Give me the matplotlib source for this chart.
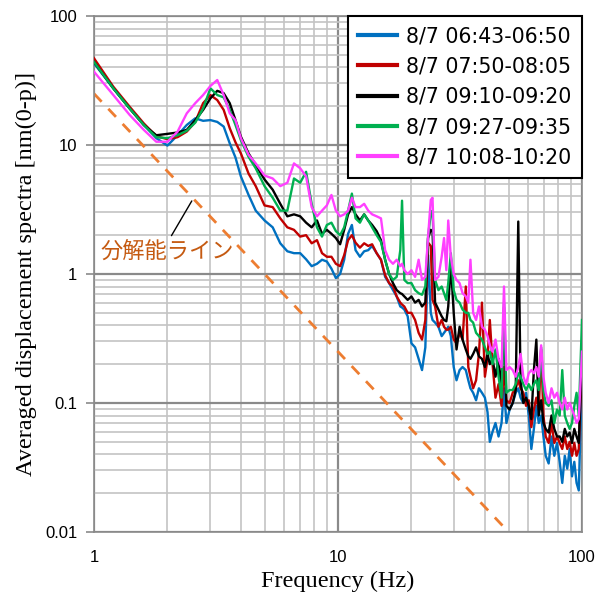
import numpy as np
import matplotlib
matplotlib.use("Agg")
import matplotlib.pyplot as plt
from matplotlib.ticker import LogLocator, NullFormatter, FixedLocator, FixedFormatter

# 周波数 (Hz)
freq = [1.0, 1.2, 1.4, 1.6, 1.8, 2.0, 2.2, 2.4, 2.6, 2.8, 3.0, 3.2, 3.4, 3.6, 3.8,
        4.0, 4.3, 4.6, 5.0, 5.4, 5.8, 6.2, 6.6, 7.0, 7.4, 7.8, 8.2, 8.6, 9.0, 9.4,
        9.8, 10.2, 10.6, 11.0, 11.4, 11.8, 12.3, 12.8, 13.3, 13.8, 14.4, 15.0, 15.6,
        16.2, 16.8, 17.4, 18.0, 18.3, 18.7, 19.3, 20.0, 20.7, 21.4, 22.1, 22.8, 23.4,
        24.0, 24.4, 25.0, 25.8, 26.6, 27.2, 27.8, 28.3, 29.0, 29.8, 30.6, 31.5, 32.4,
        33.4, 34.2, 34.9, 35.8, 36.8, 37.8, 38.9, 40.0, 41.0, 41.9, 43.0, 44.2, 45.5,
        46.8, 47.9, 49.0, 50.5, 52.0, 53.5, 54.8, 56.0, 57.5, 59.0, 60.5, 62.0, 63.5,
        65.0, 66.5, 68.0, 69.5, 71.0, 73.0, 75.0, 77.0, 79.0, 81.0, 83.0, 85.0, 87.0,
        89.0, 91.0, 93.0, 95.0, 97.0, 100.0]

# 8/7 06:43-06:50
s0643 = [43, 27.5, 19.2, 14.3, 11.3, 9.9, 11.9, 14.3, 16.1, 15.4, 15.6, 15.1, 13.9, 10.3, 8.0,
         5.7, 4.1, 3.1, 2.6, 2.3, 1.73, 1.5, 1.45, 1.45, 1.3, 1.15, 1.2, 1.29, 1.25, 1.1,
         0.93, 1.0, 1.29, 2.05, 2.4, 1.53, 1.36, 1.5, 1.53, 1.65, 1.45, 1.29, 0.95,
         0.85, 0.75, 0.67, 0.56, 0.55, 0.53, 0.47, 0.29, 0.27, 0.22, 0.18, 0.27, 1.4,
         0.5, 0.44, 0.42, 0.39, 0.33, 0.35, 0.37, 0.39, 0.33, 0.19, 0.15, 0.18, 0.19,
         0.18, 0.15, 0.13, 0.12, 0.105, 0.13, 0.12, 0.11, 0.085, 0.05, 0.06, 0.07, 0.055,
         0.07, 0.13, 0.07, 0.089, 0.1, 0.12, 0.13, 0.11, 0.1, 0.12, 0.08, 0.044, 0.063,
         0.095, 0.07, 0.08, 0.055, 0.039, 0.034, 0.055, 0.039, 0.049, 0.035, 0.024, 0.039, 0.031,
         0.044, 0.027, 0.035, 0.024, 0.021, 0.17]

# 8/7 07:50-08:05
s0750 = [47, 28.3, 19.8, 14.7, 11.7, 11.1, 11.5, 12.7, 15.1, 21.1, 24.4, 22.3, 18.7, 13.5, 10.5,
         8.6, 6.0, 4.8, 3.4, 3.3, 2.7, 2.3, 2.2, 1.95, 2.0, 1.73, 1.83, 1.45, 1.36, 1.36,
         1.2, 1.15, 1.4, 1.83, 2.0, 1.75, 1.6, 1.73, 1.65, 1.7, 1.45, 1.29, 0.98,
         0.85, 0.8, 0.67, 0.6, 0.58, 0.56, 0.5, 0.5, 0.44, 0.35, 0.31, 0.44, 1.75,
         1.65, 0.63, 0.56, 0.39, 0.44, 0.39, 0.37, 0.37, 0.39, 0.31, 0.29, 0.35, 0.31,
         0.8, 0.19, 0.16, 0.13, 0.15, 0.24, 0.6, 0.16, 0.22, 0.44, 0.2, 0.11, 0.14,
         0.095, 0.19, 0.105, 0.1, 0.12, 0.13, 0.15, 0.13, 0.12, 0.095, 0.105, 0.065, 0.089,
         0.11, 0.089, 0.26, 0.08, 0.055, 0.049, 0.07, 0.049, 0.055, 0.049, 0.044, 0.055, 0.044,
         0.05, 0.039, 0.049, 0.039, 0.044, 0.22]

# 8/7 09:10-09:20
s0910 = [44, 27.5, 19.2, 14.3, 11.9, 12.2, 12.5, 13.1, 15.6, 18.7, 23.0, 26.3, 25.2, 21.1, 15.6,
         11.6, 8.6, 7.0, 5.4, 4.5, 3.5, 2.8, 2.9, 2.8, 2.5, 2.3, 2.6, 2.05, 2.2, 2.05,
         1.9, 1.7, 2.2, 2.9, 3.3, 2.9, 2.6, 2.9, 2.6, 2.4, 2.15, 1.83, 1.29,
         1.0, 0.85, 0.75, 0.71, 0.7, 0.67, 0.63, 0.67, 0.6, 0.63, 0.56, 0.6, 1.9,
         2.2, 2.15, 0.6, 0.53, 0.47, 0.44, 0.43, 0.56, 1.2, 0.5, 0.26, 0.39, 0.31,
         0.26, 0.23, 0.22, 0.24, 0.27, 0.23, 0.22, 0.19, 0.24, 0.2, 0.22, 0.16, 0.22,
         0.125, 0.55, 0.095, 0.089, 0.1, 0.126, 2.55, 0.15, 0.1, 0.11, 0.095, 0.075, 0.18,
         0.31, 0.08, 0.105, 0.07, 0.063, 0.059, 0.08, 0.063, 0.055, 0.055, 0.05, 0.063, 0.055,
         0.059, 0.049, 0.063, 0.055, 0.049, 0.23]

# 8/7 09:27-09:35
s0927 = [44, 27.5, 19.2, 14.3, 11.5, 11.3, 11.9, 12.9, 14.9, 19.2, 27.5, 24.4, 23.4, 18.7, 14.3,
         10.9, 8.1, 6.6, 4.8, 3.9, 3.1, 3.1, 5.5, 5.1, 6.2, 3.5, 2.3, 1.95, 2.4, 2.5,
         2.15, 2.0, 2.3, 3.1, 4.2, 2.7, 2.5, 2.9, 2.6, 2.3, 2.0, 1.77, 1.29,
         1.0, 0.9, 0.95, 1.53, 3.7, 0.9, 0.85, 0.85, 0.75, 0.71, 0.69, 0.8, 1.95,
         2.95, 3.1, 0.9, 0.75, 0.8, 0.71, 0.63, 0.85, 1.45, 0.75, 0.63, 0.6, 0.53,
         0.5, 0.5, 0.44, 0.42, 0.35, 0.33, 0.31, 0.27, 0.24, 0.25, 0.2, 0.26, 0.16,
         0.11, 0.6, 0.12, 0.126, 0.126, 0.14, 0.17, 0.16, 0.14, 0.126, 0.14, 0.126, 0.14,
         0.15, 0.126, 0.27, 0.126, 0.1, 0.095, 0.105, 0.07, 0.089, 0.08, 0.18, 0.08, 0.07,
         0.063, 0.07, 0.095, 0.12, 0.08, 0.44]

# 8/7 10:08-10:20
s1008 = [37, 24.4, 17.1, 13.1, 10.6, 10.6, 12.7, 17.6, 21.1, 24.4, 28.7, 31.9, 24.4, 17.6, 15.6,
         11.3, 8.4, 7.2, 5.8, 5.5, 4.8, 5.1, 7.2, 6.6, 5.7, 3.3, 2.8, 3.1, 3.4, 4.1,
         3.1, 2.8, 2.9, 3.1, 3.9, 3.3, 3.3, 3.5, 3.1, 2.9, 2.8, 2.7, 1.53,
         1.29, 1.2, 1.29, 1.15, 1.2, 1.07, 1.0, 1.07, 0.95, 1.29, 0.9, 0.95, 1.95,
         3.75, 3.9, 0.9, 0.95, 1.36, 1.9, 1.07, 2.6, 1.36, 1.0, 0.9, 0.85, 0.71,
         0.67, 0.6, 1.29, 0.5, 0.44, 0.56, 0.39, 0.37, 0.33, 0.28, 0.25, 0.31, 0.22,
         0.19, 0.8, 0.18, 0.19, 0.18, 0.16, 0.19, 0.24, 0.16, 0.14, 0.17, 0.18, 0.17,
         0.19, 0.16, 0.28, 0.16, 0.12, 0.1, 0.13, 0.11, 0.12, 0.1, 0.089, 0.11, 0.089,
         0.1, 0.089, 0.08, 0.07, 0.075, 0.25]

labels = ["8/7 06:43-06:50", "8/7 07:50-08:05", "8/7 09:10-09:20",
          "8/7 09:27-09:35", "8/7 10:08-10:20"]
series = [s0643, s0750, s0910, s0927, s1008]
colors = ["#0070C0", "#C00000", "#000000", "#00B050", "#FF40FF"]

# 分解能ライン
res_f = [1.0, 50.0]
res_v = [25.0, 0.01]

fig = plt.figure(figsize=(5.96, 5.98), dpi=100)
ax = fig.add_axes([94 / 596, 1 - 532 / 598, (582 - 94) / 596, (532 - 16) / 598])

ax.set_xscale("log")
ax.set_yscale("log")
ax.set_xlim(1, 100)
ax.set_ylim(0.01, 100)

ax.xaxis.set_minor_locator(LogLocator(base=10, subs=np.arange(2, 10)))
ax.yaxis.set_minor_locator(LogLocator(base=10, subs=np.arange(2, 10)))
ax.xaxis.set_minor_formatter(NullFormatter())
ax.yaxis.set_minor_formatter(NullFormatter())
ax.xaxis.set_major_locator(FixedLocator([1, 10, 100]))
ax.xaxis.set_major_formatter(FixedFormatter(["1", "10", "100"]))
ax.yaxis.set_major_locator(FixedLocator([0.01, 0.1, 1, 10, 100]))
ax.yaxis.set_major_formatter(FixedFormatter(["0.01", "0.1", "1", "10", "100"]))

ax.grid(which="minor", color="#c4c4c4", lw=1.2)
ax.grid(which="major", color="#8a8a8a", lw=1.6)
ax.set_axisbelow(True)
ax.tick_params(which="minor", length=0)
ax.tick_params(axis="x", which="major", length=0, labelsize=12, pad=13)
ax.tick_params(axis="y", which="major", length=6, width=1.2, color="#8a8a8a",
               labelsize=12, pad=6)
for lab in ax.get_xticklabels() + ax.get_yticklabels():
    lab.set_family("Liberation Sans")
for sp in ax.spines.values():
    sp.set_color("#8a8a8a")
    sp.set_linewidth(1.2)

ax.plot(res_f, res_v, color="#ED7D31", lw=2, dashes=(4, 3.5), zorder=2)

for s, c, l in zip(series, colors, labels):
    ax.plot(freq, s, color=c, lw=1.7, label=l, zorder=3)

ax.text(1.06, 1.5, "分解能ライン", color="#C55A11", fontsize=16,
        family=["Noto Sans CJK JP", "DejaVu Sans"], va="center", ha="left")
ax.annotate("", xy=(2.55, 25 / 2.55 ** 2), xytext=(2.05, 1.9),
            arrowprops=dict(arrowstyle="-", color="black", lw=1))

ax.set_xlabel("Frequency (Hz)", family="Liberation Serif", fontsize=17.5, labelpad=4)
ax.set_ylabel("Averaged displacement spectra [nm(0-p)]", family="Liberation Serif",
              fontsize=17.5, labelpad=6)

leg = ax.legend(loc="upper right", bbox_to_anchor=(1.0, 1.0), borderaxespad=0,
                prop={"family": "DejaVu Sans", "size": 14.8},
                fancybox=False, framealpha=1, edgecolor="black",
                handlelength=1.9, handletextpad=0.45, labelspacing=0.5,
                borderpad=0.5)
leg.get_frame().set_linewidth(1.5)
for h in leg.get_lines():
    h.set_linewidth(3)

fig.savefig("out.png", dpi=100)
